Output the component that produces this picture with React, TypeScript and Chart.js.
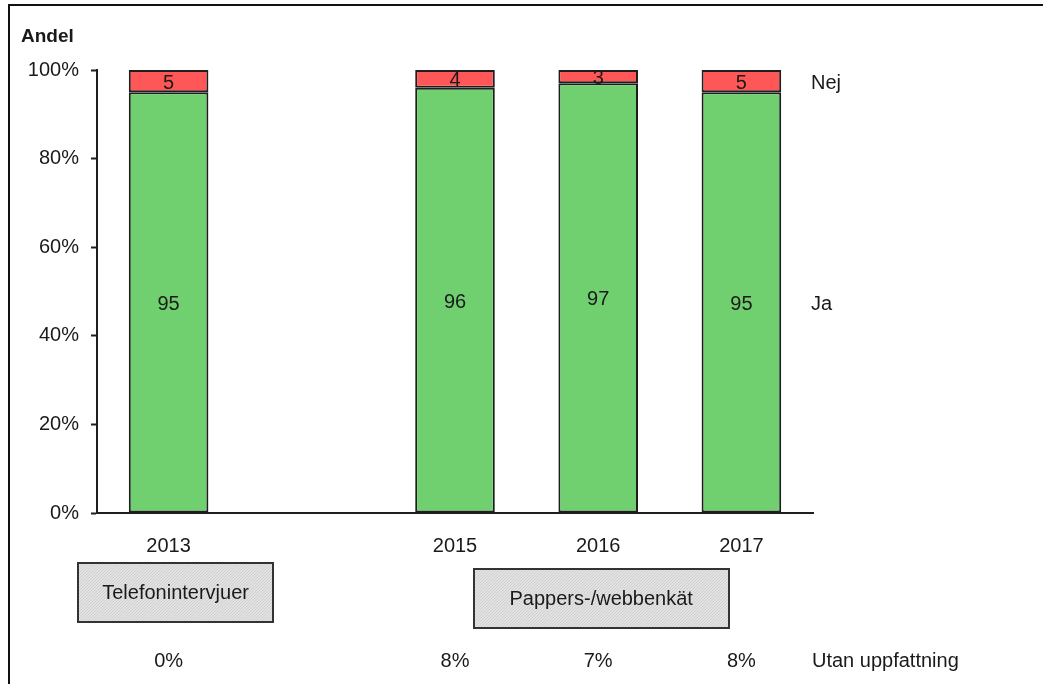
import React, { useEffect, useRef } from "react";
import { Chart, registerables } from "chart.js";

Chart.register(...registerables);

const years = ["2013", "2014", "2015", "2016", "2017"];
const jaValues = [95, null, 96, 97, 95];
const nejValues = [5, null, 4, 3, 5];
const utanUppfattning = [0, null, 8, 7, 8];
const yTicks = [0, 20, 40, 60, 80, 100];
const seriesNames = ["Ja", "Nej"];
const methodGroups = [
  { label: "Telefonintervjuer", first: 0, last: 0 },
  { label: "Pappers-/webbenkät", first: 2, last: 4 },
];

const FONT = "'Liberation Sans', Arial, sans-serif";
const TEXT = "#1a1a1a";
const GREEN = "#70d070";
const RED = "#ff5757";
const EDGE = "#1e1e1e";

// box layout (pixel geometry, kept out of data)
const boxStyles = [
  { dx: 7, width: 195, top: 563, height: 59 },
  { dx: 3, width: 255, top: 569, height: 59 },
];

function makePattern(ctx: CanvasRenderingContext2D) {
  const c = document.createElement("canvas");
  c.width = 3;
  c.height = 3;
  const p = c.getContext("2d")!;
  p.fillStyle = "#e2e2e2";
  p.fillRect(0, 0, 3, 3);
  p.fillStyle = "#cfcfcf";
  p.fillRect(0, 0, 1, 1);
  p.fillRect(2, 1, 1, 1);
  p.fillRect(1, 2, 1, 1);
  return ctx.createPattern(c, "repeat") || "#dcdcdc";
}

const overlayPlugin = {
  id: "overlay",
  afterDatasetsDraw(chart: any) {
    const ctx: CanvasRenderingContext2D = chart.ctx;
    const area = chart.chartArea;
    const xScale = chart.scales.x;
    ctx.save();

    // data labels in segments
    ctx.font = `20px ${FONT}`;
    ctx.fillStyle = TEXT;
    ctx.textAlign = "center";
    ctx.textBaseline = "middle";
    chart.data.datasets.forEach((ds: any, di: number) => {
      const meta = chart.getDatasetMeta(di);
      meta.data.forEach((el: any, i: number) => {
        const v = ds.data[i];
        if (v === null || v === undefined) return;
        ctx.fillText(String(v), el.x, (el.y + el.base) / 2 + 2);
      });
    });

    // series names to the right of last bar
    ctx.textAlign = "left";
    chart.data.datasets.forEach((ds: any, di: number) => {
      const meta = chart.getDatasetMeta(di);
      const last = meta.data[meta.data.length - 1];
      ctx.fillText(seriesNames[di], area.right - 2, (last.y + last.base) / 2 + 2);
    });

    // Andel
    ctx.font = `bold 19px ${FONT}`;
    ctx.fillText("Andel", 21, 37);

    // method boxes
    const pattern = makePattern(ctx);
    methodGroups.forEach((g, gi) => {
      const st = boxStyles[gi];
      const cx = (xScale.getPixelForValue(g.first) + xScale.getPixelForValue(g.last)) / 2 + st.dx;
      const x0 = Math.round(cx - st.width / 2);
      ctx.fillStyle = pattern as any;
      ctx.fillRect(x0, st.top, st.width, st.height);
      ctx.strokeStyle = "#333";
      ctx.lineWidth = 2;
      ctx.strokeRect(x0, st.top, st.width, st.height);
      ctx.fillStyle = TEXT;
      ctx.font = `20px ${FONT}`;
      ctx.textAlign = "center";
      ctx.fillText(g.label, cx, st.top + st.height / 2 + 1);
    });

    // Utan uppfattning row
    ctx.font = `20px ${FONT}`;
    ctx.textAlign = "center";
    utanUppfattning.forEach((v, i) => {
      if (v === null) return;
      ctx.fillText(`${v}%`, xScale.getPixelForValue(i), 661);
    });
    ctx.textAlign = "left";
    ctx.fillText("Utan uppfattning", area.right - 1, 661);

    // outer frame
    ctx.strokeStyle = "#111";
    ctx.lineWidth = 2;
    ctx.beginPath();
    ctx.moveTo(9, 684);
    ctx.lineTo(9, 5);
    ctx.lineTo(1043, 5);
    ctx.stroke();

    ctx.restore();
  },
};

export default function App() {
  const ref = useRef<HTMLCanvasElement>(null);
  useEffect(() => {
    if (!ref.current) return;
    const chart = new Chart(ref.current, {
      type: "bar",
      data: {
        labels: years,
        datasets: [
          {
            label: seriesNames[0],
            data: jaValues as any,
            backgroundColor: GREEN,
            borderColor: EDGE,
            borderWidth: 2,
            borderSkipped: false,
            barPercentage: 0.556,
            categoryPercentage: 1,
          },
          {
            label: seriesNames[1],
            data: nejValues as any,
            backgroundColor: RED,
            borderColor: EDGE,
            borderWidth: 2,
            borderSkipped: false,
            barPercentage: 0.556,
            categoryPercentage: 1,
          },
        ],
      },
      options: {
        responsive: false,
        animation: false,
        devicePixelRatio: 1,
        layout: { padding: { left: 0, top: 70, right: 230, bottom: 0 } },
        plugins: {
          legend: { display: false },
          tooltip: { enabled: false },
          title: { display: false },
        },
        scales: {
          x: {
            stacked: true,
            grid: { display: false },
            border: { display: true, color: EDGE, width: 2 },
            ticks: {
              padding: 13,
              color: TEXT,
              font: { family: FONT, size: 20 },
              maxRotation: 0,
              autoSkip: false,
              callback: (_v: any, i: number) => (jaValues[i] === null ? "" : years[i]),
            },
            afterFit: (s: any) => {
              s.height = 684 - 513;
            },
          },
          y: {
            stacked: true,
            min: 0,
            max: 100,
            afterBuildTicks: (s: any) => {
              s.ticks = yTicks.map((v) => ({ value: v }));
            },
            grid: { drawOnChartArea: false, tickLength: 6, color: EDGE, tickWidth: 2 },
            border: { display: true, color: EDGE, width: 2 },
            ticks: {
              padding: 12,
              color: TEXT,
              font: { family: FONT, size: 20 },
              callback: (v: any) => `${v}%`,
            },
            afterFit: (s: any) => {
              s.width = 97;
            },
          },
        },
      },
      plugins: [overlayPlugin],
    });
    return () => chart.destroy();
  }, []);
  return (
    <div style={{ position: "absolute", left: 0, top: 0, width: 1043, height: 684, background: "#fff" }}>
      <canvas ref={ref} width={1043} height={684} style={{ display: "block" }} />
    </div>
  );
}
